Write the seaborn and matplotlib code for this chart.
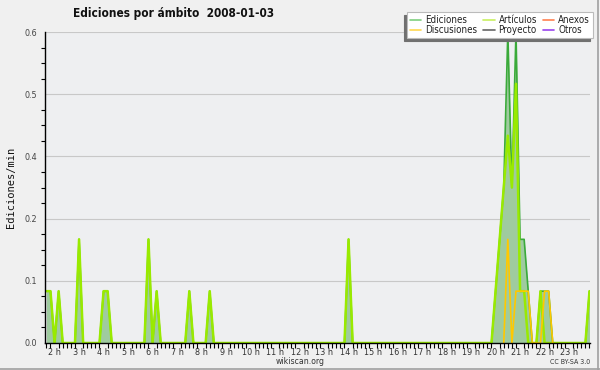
import numpy as np
import pandas as pd
import matplotlib
matplotlib.use("Agg")
import matplotlib.pyplot as plt
from matplotlib.lines import Line2D
import seaborn as sns

# ---- data (edits per minute, 10-minute bins starting at 01:40) ----
start_hour = 1 + 40 / 60
hour_labels = [f"{h} h" for h in range(2, 24)]
hour_ticks = list(range(2, 24))

ediciones = [0.1, 0.1,
             0, 0.1, 0, 0, 0, 0,          # 2h
             0.2, 0, 0, 0, 0, 0,          # 3h
             0.1, 0.1, 0, 0, 0, 0,        # 4h
             0, 0, 0, 0, 0, 0.2,          # 5h
             0, 0.1, 0, 0, 0, 0,          # 6h
             0, 0, 0, 0.1, 0, 0,          # 7h
             0, 0, 0.1, 0, 0, 0,          # 8h
             0, 0, 0, 0, 0, 0,            # 9h
             0, 0, 0, 0, 0, 0,            # 10h
             0, 0, 0, 0, 0, 0,            # 11h
             0, 0, 0, 0, 0, 0,            # 12h
             0, 0, 0, 0, 0, 0,            # 13h
             0.2, 0, 0, 0, 0, 0,          # 14h
             0, 0, 0, 0, 0, 0,            # 15h
             0, 0, 0, 0, 0, 0,            # 16h
             0, 0, 0, 0, 0, 0,            # 17h
             0, 0, 0, 0, 0, 0,            # 18h
             0, 0, 0, 0, 0, 0,            # 19h
             0.1, 0.2, 0.3, 0.6, 0.3, 0.6,  # 20h
             0.2, 0.2, 0.1, 0, 0, 0.1,    # 21h
             0.1, 0.1, 0, 0, 0, 0,        # 22h
             0, 0, 0, 0, 0, 0.1]          # 23h

articulos = [0.1, 0.1,
             0, 0.1, 0, 0, 0, 0,
             0.2, 0, 0, 0, 0, 0,
             0.1, 0.1, 0, 0, 0, 0,
             0, 0, 0, 0, 0, 0.2,
             0, 0.1, 0, 0, 0, 0,
             0, 0, 0, 0.1, 0, 0,
             0, 0, 0.1, 0, 0, 0,
             0, 0, 0, 0, 0, 0,
             0, 0, 0, 0, 0, 0,
             0, 0, 0, 0, 0, 0,
             0, 0, 0, 0, 0, 0,
             0, 0, 0, 0, 0, 0,
             0.2, 0, 0, 0, 0, 0,
             0, 0, 0, 0, 0, 0,
             0, 0, 0, 0, 0, 0,
             0, 0, 0, 0, 0, 0,
             0, 0, 0, 0, 0, 0,
             0, 0, 0, 0, 0, 0,
             0.1, 0.2, 0.3, 0.4, 0.3, 0.5,
             0.1, 0.1, 0, 0, 0, 0.1,
             0, 0, 0, 0, 0, 0,
             0, 0, 0, 0, 0, 0.1]

discusiones = [0, 0] + [0] * 6 * 18 + \
              [0, 0, 0, 0.2, 0, 0.1,      # 20h
               0.1, 0.1, 0.1, 0, 0, 0,    # 21h
               0.1, 0.1, 0, 0, 0, 0,      # 22h
               0, 0, 0, 0, 0, 0]          # 23h

n = len(ediciones)
times = start_hour + np.arange(n) / 6.0

series_names = ["Ediciones", "Discusiones", "Artículos", "Proyecto", "Anexos", "Otros"]
series_colors = {"Ediciones": "#3aaa3a", "Artículos": "#99ea00", "Discusiones": "#ffc800"}
legend_colors = {"Ediciones": "#7fd07f", "Artículos": "#c8f060", "Discusiones": "#ffd850",
                 "Proyecto": "#666666", "Anexos": "#ff8050", "Otros": "#9944ee"}


def visible(values):
    """Hide flat runs of zeros so no line is drawn along the axis."""
    v = np.asarray(values, dtype=float)
    nz = v != 0
    keep = nz.copy()
    keep[1:] |= nz[:-1]
    keep[:-1] |= nz[1:]
    return np.where(keep, v, np.nan)


df = pd.DataFrame({"t": times, "Ediciones": ediciones,
                   "Ed_line": visible(ediciones),
                   "Art_line": visible(articulos),
                   "Disc_line": visible(discusiones)})

# ---- figure ----
sns.set_style("white")
plt.rcParams['font.family'] = ['DejaVu Sans']
plt.rcParams['font.stretch'] = 'condensed'

fig = plt.figure(figsize=(6, 3.7), dpi=100, facecolor="#f0f0f0")
ax = fig.add_axes([45 / 600, 1 - 343 / 370, 545 / 600, 311 / 370])
ax.set_facecolor("#eeeff1")

ax.fill_between(df["t"], 0, df["Ediciones"], color="#9fcb9f", lw=0, zorder=2)
sns.lineplot(data=df, x="t", y="Ed_line", color=series_colors["Ediciones"], lw=1.2,
             ax=ax, zorder=3)
sns.lineplot(data=df, x="t", y="Art_line", color=series_colors["Artículos"], lw=1.8,
             ax=ax, zorder=4)
sns.lineplot(data=df, x="t", y="Disc_line", color=series_colors["Discusiones"], lw=1.2,
             ax=ax, zorder=5)

x_left = start_hour - 1.4 / 24.5
x_right = x_left + 545 / 24.5

yt = [0, 0.12, 0.24, 0.36, 0.48, 0.6]
ax.set_yticks(yt)
ax.set_yticklabels([f"{v:.1f}" for v in yt])
ax.set_yticks(np.arange(0, 0.6001, 0.03), minor=True)
ax.set_xticks(hour_ticks)
ax.set_xticklabels(hour_labels)
minor_x = start_hour + np.arange(-1, n + 1) / 6.0
ax.set_xticks(minor_x[(minor_x >= x_left) & (minor_x <= x_right)], minor=True)
ax.set_xlim(x_left, x_right)
ax.set_ylim(0, 0.6)

ax.grid(axis="y", which="major", color="#c8c8c8", lw=0.8, zorder=1)
ax.set_axisbelow(True)
for s in ["top", "right"]:
    ax.spines[s].set_visible(False)
for s in ["left", "bottom"]:
    ax.spines[s].set_color("black")
    ax.spines[s].set_linewidth(1.0)
    ax.spines[s].set_zorder(6)

ax.tick_params(axis="y", which="major", length=5, width=0.8, color="black",
               labelsize=6.5, labelcolor="#444444", pad=1)
ax.tick_params(axis="y", which="minor", length=3, width=0.8, color="black", left=True)
ax.tick_params(axis="x", which="major", length=3.5, width=0.8, color="black",
               labelsize=6.5, labelcolor="#333333", pad=0)
ax.tick_params(axis="x", which="minor", length=3.5, width=0.8, color="black", bottom=True)

ax.set_xlabel("")
ax.set_ylabel("Ediciones/min", family="DejaVu Sans Mono", fontsize=7.5, color="#111111")
ax.yaxis.set_label_coords(-0.054, 0.5)

# legend
handles = [Line2D([], [], color=legend_colors[nm], lw=1.2) for nm in series_names]
leg = fig.legend(handles, series_names, ncol=3, loc="upper right",
                 bbox_to_anchor=(593 / 600, 1 - 12 / 370), bbox_transform=fig.transFigure,
                 borderaxespad=0, frameon=True, fancybox=False, fontsize=7,
                 handlelength=1.2, handletextpad=0.4, columnspacing=0.6,
                 labelspacing=0.05, borderpad=0.3,
                 shadow={"ox": -2.2, "oy": -2.2, "facecolor": "#707070",
                         "edgecolor": "#707070", "alpha": 1})
leg.get_frame().set_edgecolor("#bbbbbb")
leg.get_frame().set_linewidth(0.8)
leg.get_frame().set_facecolor("white")
for t in leg.get_texts():
    t.set_color("#222222")

fig.text(174 / 600, 1 - 14 / 370, "Ediciones por ámbito  2008-01-03", ha="center",
         va="center", fontsize=8.5, fontweight="bold", color="#111111")
fig.text(300 / 600, 1 - 362 / 370, "wikiscan.org", ha="center", va="center",
         fontsize=6.2, color="#333333")
fig.text(590 / 600, 1 - 362 / 370, "CC BY-SA 3.0", ha="right", va="center",
         fontsize=5, color="#333333")

fig.add_artist(Line2D([0.997, 0.997], [0, 1], transform=fig.transFigure,
                      color="#a0a0a0", lw=1.2))
fig.add_artist(Line2D([0, 1], [0.002, 0.002], transform=fig.transFigure,
                      color="#a0a0a0", lw=1.2))

fig.savefig("out.png", dpi=100, facecolor=fig.get_facecolor())
